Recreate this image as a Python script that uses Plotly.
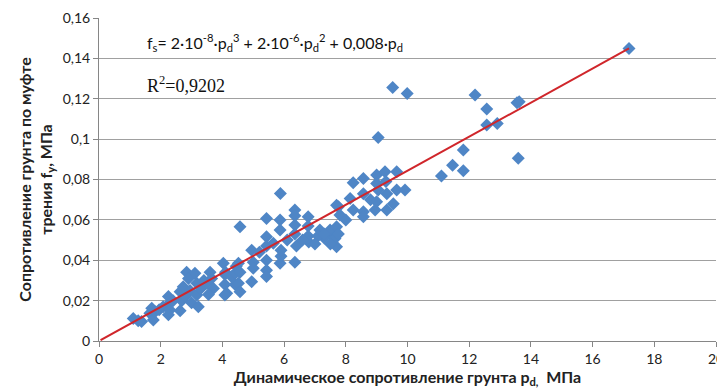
import plotly.graph_objects as go

# Scatter data: dynamic resistance p_d (MPa) vs sleeve friction f_s (MPa)
p_d = [1.11, 1.27, 1.38, 1.65, 1.71, 1.76, 1.82, 1.95, 2.08, 2.25, 2.28, 2.30, 2.25, 2.40,
       2.63, 2.68, 2.63, 2.73, 2.84, 2.90, 2.95, 2.80, 3.00, 3.11, 3.17, 3.17, 3.22, 3.30,
       3.49, 3.60, 3.65, 3.71, 3.55, 3.40, 4.03, 4.08, 4.08, 4.14, 4.08, 4.10, 4.30, 4.41,
       4.41, 4.45, 4.52, 4.57, 4.52, 4.57, 4.57, 4.95, 5.00, 5.00, 4.95, 5.43, 5.43, 5.43,
       5.43, 5.43, 5.43, 5.65, 5.87, 5.87, 5.87, 5.90, 5.90, 5.88, 6.35, 6.35, 6.35, 6.35,
       6.35, 6.40, 6.78, 6.78, 6.78, 6.80, 7.16, 7.30, 7.54, 7.70, 7.76, 7.10, 7.49, 7.65,
       7.50, 7.70, 7.81, 8.00, 7.70, 8.14, 8.24, 8.24, 8.57, 8.57, 8.57, 8.57, 8.80, 8.95,
       9.00, 9.00, 9.05, 9.00, 9.05, 9.27, 9.30, 9.33, 9.33, 9.54, 9.65, 9.65, 9.92, 9.52,
       9.99, 11.10, 11.46, 11.81, 11.81, 12.19, 12.57, 12.57, 12.91, 13.55, 13.62, 13.59,
       17.18, 7.30, 7.76, 5.20, 6.10, 6.60, 7.00]
f_s = [0.0112, 0.0100, 0.0096, 0.0137, 0.0162, 0.0104, 0.0145, 0.0155, 0.0170, 0.0220, 0.0187,
       0.0153, 0.0130, 0.0200, 0.0244, 0.0200, 0.0150, 0.0269, 0.0340, 0.0310, 0.0250, 0.0220,
       0.0190, 0.0335, 0.0286, 0.0228, 0.0170, 0.0260, 0.0286, 0.0340, 0.0310, 0.0260, 0.0230,
       0.0300, 0.0385, 0.0330, 0.0280, 0.0236, 0.0228, 0.0340, 0.0318, 0.0336, 0.0280, 0.0370,
       0.0385, 0.0340, 0.0286, 0.0244, 0.0566, 0.0450, 0.0390, 0.0360, 0.0294, 0.0607, 0.0516,
       0.0470, 0.0400, 0.0350, 0.0320, 0.0484, 0.0600, 0.0550, 0.0385, 0.0420, 0.0450, 0.0731,
       0.0649, 0.0620, 0.0574, 0.0530, 0.0390, 0.0470, 0.0615, 0.0570, 0.0520, 0.0490, 0.0550,
       0.0510, 0.0533, 0.0467, 0.0665, 0.0520, 0.0550, 0.0508, 0.0480, 0.0566, 0.0624, 0.0600,
       0.0673, 0.0706, 0.0784, 0.0649, 0.0805, 0.0730, 0.0640, 0.0615, 0.0700, 0.0649, 0.0822,
       0.0780, 0.0748, 0.0690, 0.1008, 0.0838, 0.0790, 0.0730, 0.0649, 0.0680, 0.0838, 0.0748,
       0.0748, 0.1256, 0.1226, 0.0817, 0.0871, 0.0946, 0.0843, 0.1218, 0.1149, 0.1070, 0.1078,
       0.1180, 0.1185, 0.0905, 0.1449, 0.0530, 0.0530, 0.0440, 0.0500, 0.0500, 0.0480]

# Trend line end points (as drawn)
trend_x = [0.05, 17.18]
trend_y = [0.0004, 0.1449]

x_ticks = [0, 2, 4, 6, 8, 10, 12, 14, 16, 18, 20]
y_ticks = [0, 0.02, 0.04, 0.06, 0.08, 0.10, 0.12, 0.14, 0.16]

fig = go.Figure()
fig.add_trace(go.Scatter(x=p_d, y=f_s, mode="markers",
                         marker=dict(symbol="diamond", size=10, color="#4F86C6",
                                     line=dict(width=0)),
                         showlegend=False, cliponaxis=False))
fig.add_trace(go.Scatter(x=trend_x, y=trend_y, mode="lines",
                         line=dict(color="#D0262B", width=2), showlegend=False))

font_main = "Lato, 'Open Sans', sans-serif"
# The page body adds an 8px margin, so the figure is 717x382 and margins are offset by 8px.
fig.update_layout(
    width=717, height=382,
    margin=dict(l=91, r=9, t=10, b=49),
    paper_bgcolor="white", plot_bgcolor="white",
    separators=", ",
    font=dict(family=font_main, size=14, color="#222"),
    xaxis=dict(range=[0, 20], tickvals=x_ticks, showgrid=False, zeroline=False,
               automargin=False,
               showline=True, linecolor="#868686", linewidth=1,
               ticks="outside", ticklen=5, tickcolor="#868686",
               tickfont=dict(size=14, color="#222"),
               title=dict(text="<b>Динамическое сопротивление грунта p<sub>d,</sub>  МПа</b>",
                          font=dict(size=16, color="#222"), standoff=0)),
    yaxis=dict(range=[0, 0.16], tickvals=y_ticks, showgrid=True, gridcolor="#A0A0A0",
               gridwidth=1, zeroline=False, automargin=False,
               showline=True, linecolor="#868686", linewidth=1,
               ticks="outside", ticklen=5, tickcolor="#868686",
               tickfont=dict(size=14, color="#222"),
               title=dict(text="<b>Сопротивление грунта по муфте<br>трения f<sub>у</sub>, МПа</b>",
                          font=dict(size=16, color="#222"), standoff=6)),
)

fig.add_annotation(xref="paper", yref="paper", x=0.0746, y=0.923, xanchor="left", yanchor="middle",
                   showarrow=False,
                   text="f<sub>s</sub>= 2·10<sup>-8</sup>·p<sub>d</sub><sup>3</sup> + 2·10<sup>-6</sup>·p<sub>d</sub><sup>2</sup> + 0,008·p<sub>d</sub>",
                   font=dict(family=font_main, size=16, color="#111"))
fig.add_annotation(xref="paper", yref="paper", x=0.0746, y=0.793, xanchor="left", yanchor="middle",
                   showarrow=False, text="R<sup>2</sup>=0,9202",
                   font=dict(family="'Liberation Serif', serif", size=18, color="#111"))

fig.write_html("out.html")
